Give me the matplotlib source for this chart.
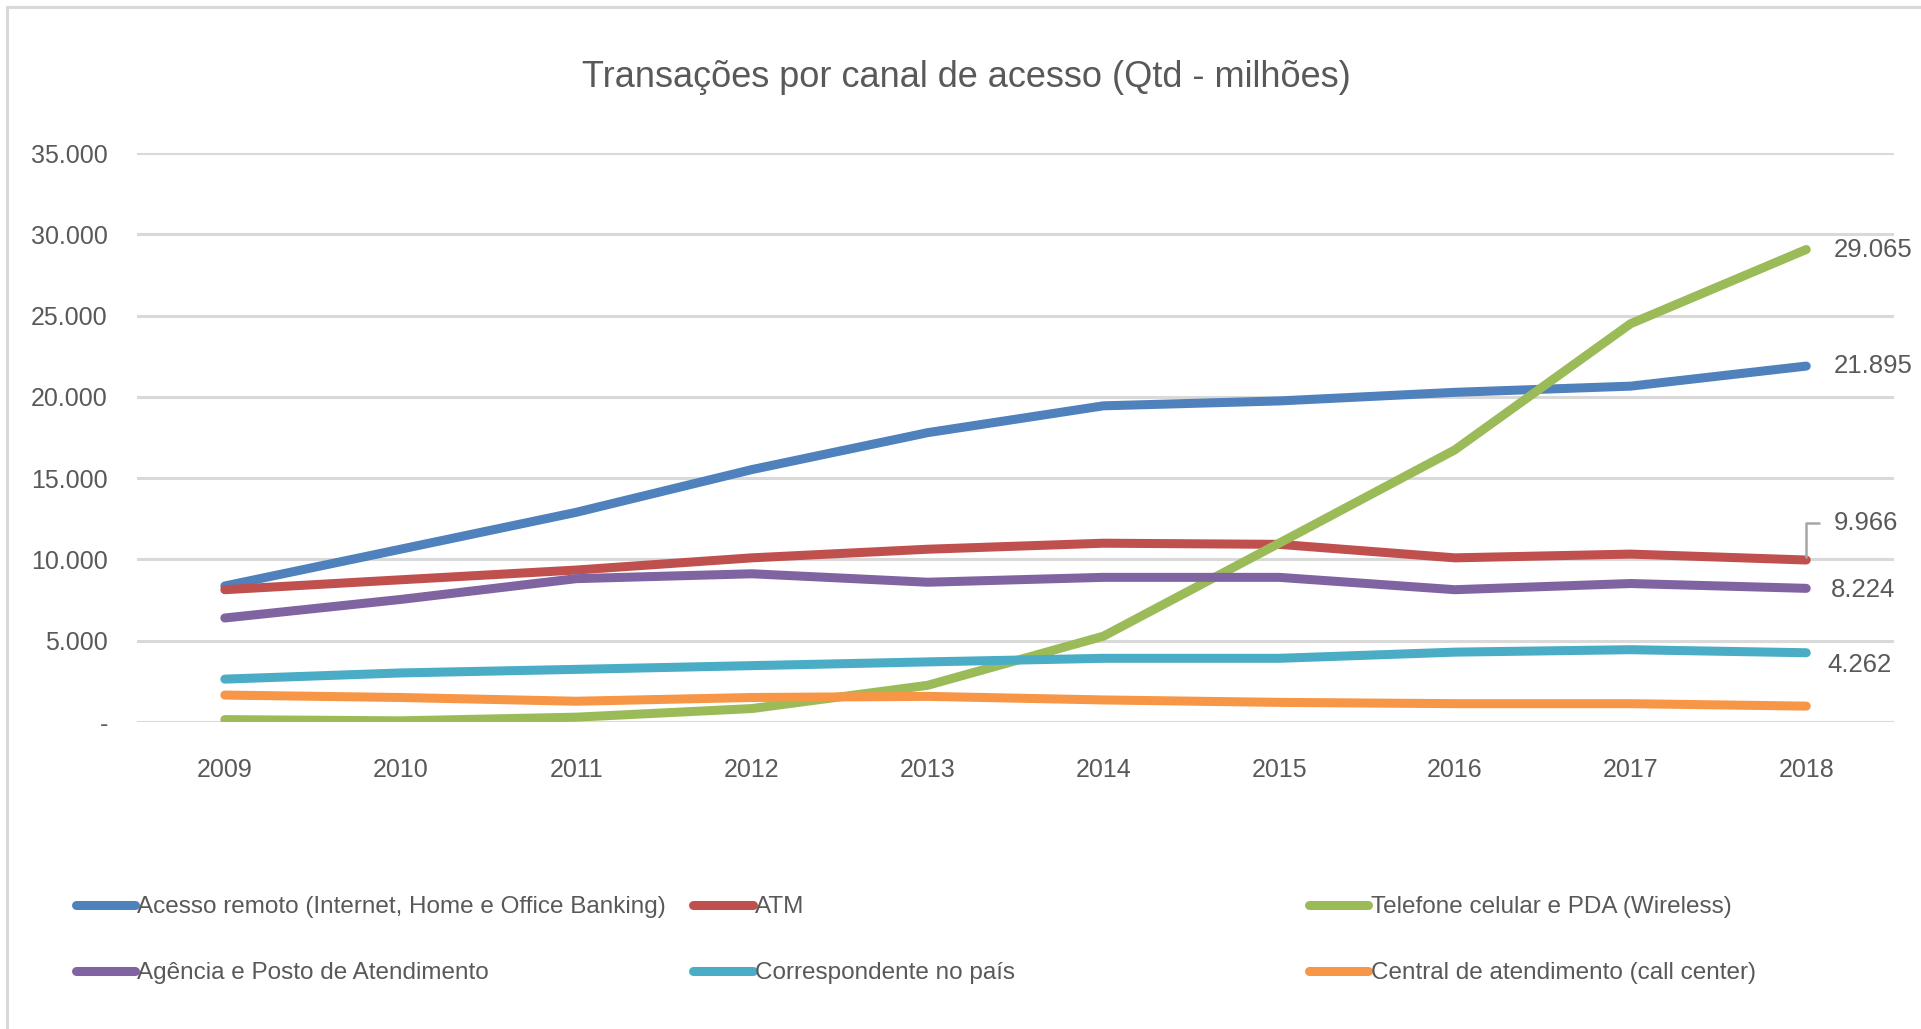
import matplotlib.pyplot as plt
from matplotlib.patches import Rectangle
from matplotlib.ticker import FuncFormatter

plt.rcParams['font.family'] = ['Liberation Sans', 'DejaVu Sans']

years = ['2009', '2010', '2011', '2012', '2013', '2014', '2015', '2016', '2017', '2018']

acesso_remoto = [8370, 10630, 12900, 15530, 17800, 19450, 19750, 20280, 20660, 21895]
atm = [8140, 8750, 9350, 10100, 10630, 11000, 10930, 10100, 10330, 9966]
telefone = [150, 75, 300, 830, 2260, 5280, 11000, 16740, 24500, 29065]
agencia = [6400, 7540, 8820, 9120, 8600, 8900, 8900, 8140, 8520, 8224]
correspondente = [2640, 3020, 3240, 3470, 3700, 3920, 3920, 4300, 4450, 4262]
central = [1660, 1510, 1280, 1510, 1580, 1360, 1210, 1130, 1130, 980]

names = ['Acesso remoto (Internet, Home e Office Banking)', 'ATM',
         'Telefone celular e PDA (Wireless)', 'Agência e Posto de Atendimento',
         'Correspondente no país', 'Central de atendimento (call center)']
series = [acesso_remoto, atm, telefone, agencia, correspondente, central]
colors = ['#4F81BD', '#C0504D', '#9BBB59', '#8064A2', '#4BACC6', '#F79646']

txt = '#595959'
grid = '#D9D9D9'

fig = plt.figure(figsize=(19.21, 10.29), dpi=100)
fig.patches.append(Rectangle((7 / 1921, -0.1), 1.2, 1 - 7 / 1029 + 0.1, transform=fig.transFigure,
                             fill=False, edgecolor=grid, linewidth=2.2, zorder=0))

ax = fig.add_axes([0.0713, 0.2983, 0.9147, 0.553])

x = list(range(len(years)))
lines = []
for vals, name, c in zip(series, names, colors):
    ln, = ax.plot(x, vals, color=c, lw=6.5, solid_capstyle='round', solid_joinstyle='round',
                  label=name, zorder=3)
    lines.append(ln)

ax.set_xlim(-0.5, len(years) - 0.5)
ax.set_ylim(0, 35000)
ax.set_yticks(range(0, 35001, 5000))
ax.yaxis.set_major_formatter(FuncFormatter(
    lambda v, p: '-' if v == 0 else '{:,.0f}'.format(v).replace(',', '.')))
ax.set_xticks(x)
ax.set_xticklabels(years)
ax.grid(axis='y', color=grid, lw=2.2)
ax.set_axisbelow(True)
for s in ax.spines.values():
    s.set_visible(False)
ax.tick_params(axis='both', length=0, labelsize=18, colors=txt)
ax.tick_params(axis='y', pad=21)
ax.tick_params(axis='x', pad=26)

# data labels at the last point
last = len(years) - 1
offsets = {0: (20, 0), 2: (20, 0), 1: (20, 27), 3: (18, -1), 4: (15, -9)}
for i, (dx, dy) in offsets.items():
    v = series[i][last]
    label = '{:,.0f}'.format(v).replace(',', '.')
    ax.annotate(label, (last, v), xytext=(dx, dy), textcoords='offset points',
                ha='left', va='center', fontsize=18.5, color=txt, annotation_clip=False)
# leader line for the ATM label
ax.annotate('', (last, atm[last]), xytext=(9, 27), textcoords='offset points',
            arrowprops=dict(arrowstyle='-', color='#A6A6A6', lw=1.8,
                            connectionstyle='angle,angleA=0,angleB=90,rad=0',
                            shrinkA=0, shrinkB=2))

fig.text(0.503, 0.925, 'Transações por canal de acesso (Qtd - milhões)', ha='center', va='center',
         fontsize=26, color=txt)

# legend, three evenly spaced columns
cols = [(0, 3), (1, 4), (2, 5)]
col_x = [0.0394, 0.361, 0.6815]
for (a, b), cx in zip(cols, col_x):
    fig.legend([lines[a], lines[b]], [names[a], names[b]], loc='upper left',
               bbox_to_anchor=(cx, 0.129), frameon=False, fontsize=17.5,
               labelcolor=txt, handlelength=2.43, handletextpad=0.1,
               labelspacing=1.8, borderaxespad=0, borderpad=0)

fig.savefig('out.png', dpi=100)
